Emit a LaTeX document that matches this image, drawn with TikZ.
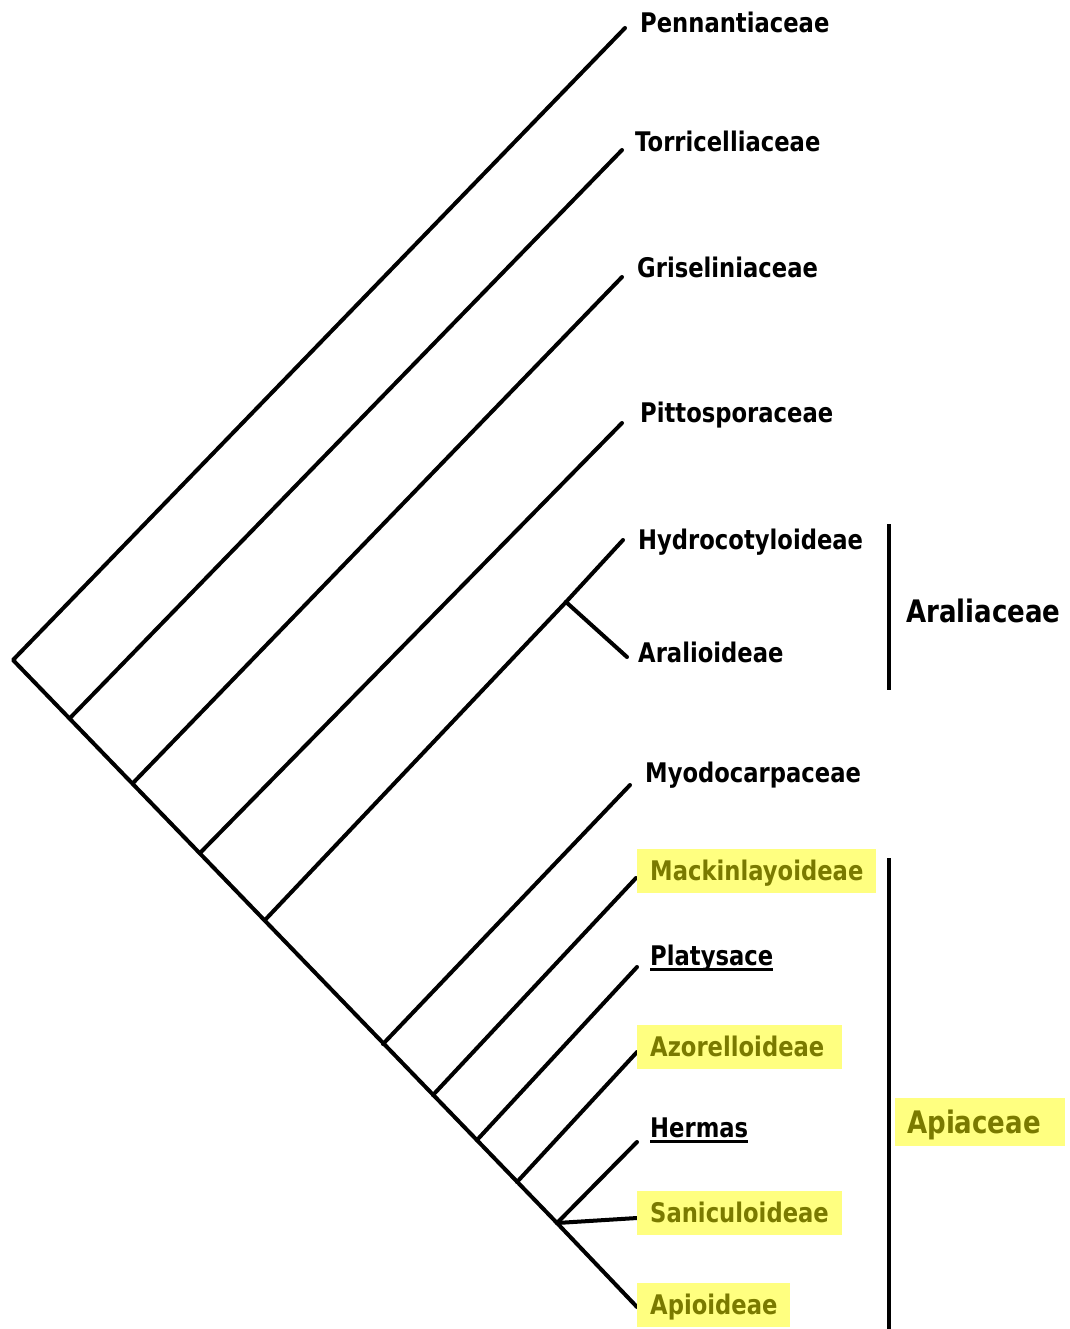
\documentclass[tikz,border=0pt]{standalone}
\usepackage{fontspec}
\newfontfamily\labfont{DejaVu Sans}[FakeStretch=0.84]
\definecolor{hlyellow}{RGB}{255,255,128}
\definecolor{hltext}{RGB}{122,122,0}
\newcommand\genusline[1]{\setbox0\hbox{#1}\rlap{\rule[-5pt]{\wd0}{2.6pt}}\box0}

\tikzset{
    branch/.style={line width=4pt, line cap=round, line join=round},
    taxon/.style={anchor=west, inner xsep=0pt, inner ysep=0pt, text height=19.7pt, text depth=0pt,
        font=\labfont\bfseries\fontsize{27pt}{27pt}\selectfont},
    hltaxon/.style={taxon, fill=hlyellow, text=hltext, inner xsep=13pt, inner ysep=12.5pt},
    family/.style={taxon, text height=22.6pt, font=\labfont\bfseries\fontsize{31pt}{31pt}\selectfont},
}

\begin{document}
\begin{tikzpicture}[x=1pt, y=-1pt]

    \useasboundingbox (0,0) rectangle (1069,1329);

    % spine
    \foreach \n/\x/\y in {r0/13/660, s1/70/718, s2/133/783, s3/200/853, s4/265/920,
                          s5/383/1044, s6/433/1095, s7/477/1140, s8/517/1182, s9/557/1223, ar/566/602}
        \coordinate (\n) at (\x,\y);

    % tips
    \foreach \n/\x/\y in {t1/625/28, t2/622/150, t3/622/277, t4/622/423, t5/623/540, t6/627/657,
                          t7/630/785, t8/636/878, t9/637/967, t10/637/1052, t11/637/1142,
                          t12/637/1218, t13/637/1307}
        \coordinate (\n) at (\x,\y);

    \draw[branch] (t1) -- (r0) -- (s9) -- (t13);
    \foreach \s/\t in {s1/t2, s2/t3, s3/t4, s4/ar, ar/t5, ar/t6, s5/t7, s6/t8, s7/t9, s8/t10, s9/t11, s9/t12}
        \draw[branch] (\s) -- (\t);

    \node[taxon] (pen) at (640,23) {Pennantiaceae};
    \node[taxon] (tor) at (635,142) {Torricelliaceae};
    \node[taxon] (gri) at (637,268) {Griseliniaceae};
    \node[taxon] (pit) at (640,413) {Pittosporaceae};
    \node[taxon] (hyd) at (638,540) {Hydrocotyloideae};
    \node[taxon] (arl) at (638,653) {Aralioideae};
    \node[taxon] (myo) at (645,773) {Myodocarpaceae};
    \node[hltaxon] (mac) at (637,871) {Mackinlayoideae};
    \node[taxon] (pla) at (650,956) {\genusline{Platysace}};
    \node[hltaxon] (azo) at (637,1047) {Azorelloideae\kern5pt};
    \node[taxon] (her) at (650,1128) {\genusline{Hermas}};
    \node[hltaxon] (san) at (637,1213) {Saniculoideae};
    \node[hltaxon] (api) at (637,1305) {Apioideae};

    \draw[branch, line width=4.5pt, line cap=butt] (889,524) -- (889,690);
    \draw[branch, line width=4.5pt, line cap=butt] (889,858) -- (889,1329);

    \node[family] (aral) at (906,611) {Araliaceae};
    \node[family, fill=hlyellow, text=hltext, inner xsep=12pt, inner ysep=13pt] (apia) at (895,1122) {Apiaceae\kern12pt};

\end{tikzpicture}
\end{document}
